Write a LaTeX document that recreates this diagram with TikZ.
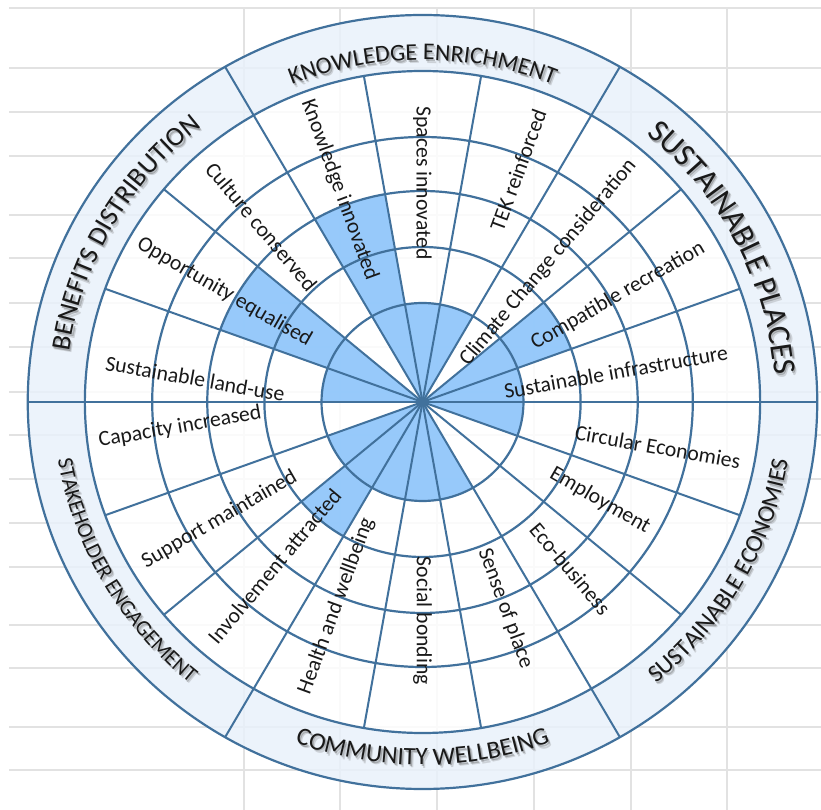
\documentclass[tikz,border=0pt]{standalone}
\usepackage{fontspec}
\setmainfont{Carlito}
\usetikzlibrary{decorations.text}

\definecolor{wheelline}{RGB}{65,113,156}
\definecolor{wheelshade}{RGB}{140,196,250}
\definecolor{bandfill}{RGB}{233,241,250}
\definecolor{gridgray}{RGB}{226,226,226}

\tikzset{
	ring/.style={draw=wheelline, line width=2.2pt},
	spoke/.style={draw=wheelline, line width=2pt},
	cell/.style={fill=wheelshade, fill opacity=0.9},
	gridline/.style={draw=gridgray, line width=1.5pt},
	goal/.style={font=\fontsize{21.7}{24}\selectfont, text=black!90, inner sep=0pt},
}

% curved heading in the outer band: from, to, baseline radius, size, text
\newcommand\bandtext[5]{%
	\foreach \dx/\dy/\op in {2.6/-3.2/0.2, 1.4/-1.8/0.35} {
		\begin{scope}[opacity=\op, shift={(\dx,\dy)}]
			\path[decorate, decoration={text along path, text align=center,
				text={|\fontsize{#4}{#4}\selectfont\color{black!70}|#5}}]
				(#1:#3) arc[start angle=#1, end angle=#2, radius=#3];
		\end{scope}
	}
	\path[decorate, decoration={text along path, text align=center,
		text={|\fontsize{#4}{#4}\selectfont\color{black!90}|#5}}]
		(#1:#3) arc[start angle=#1, end angle=#2, radius=#3];
}

\begin{document}
\begin{tikzpicture}[x=1pt, y=1pt, xscale=1.02]

	% sheet grid behind the wheel
	\begin{scope}[xscale=0.98039, yscale=-1, shift={(-422.5,-402)}]
		\useasboundingbox (0,0) rectangle (821,810);
		\foreach \y in {8,68,112,156,215,258,303,347,392,435,479,523,567,625,668,727,770}
			\draw[gridline] (9,\y) -- (821,\y);
		\foreach \x in {244,340,437,534,631,727}
			\draw[gridline] (\x,7) -- (\x,810);
	\end{scope}

	\coordinate (hub) at (0,0);

	\fill[bandfill, fill opacity=0.85, even odd rule] (hub) circle[radius=387] (hub) circle[radius=331];
	\fill[white, fill opacity=0.85] (hub) circle[radius=331];

	% scored cells
	\foreach \a/\b/\r in {0/20/99, 60/100/99, 160/180/99, 200/220/99, 240/300/99, 340/360/99,
		20/40/155, 220/240/155, 100/120/211, 140/160/211}
		\fill[cell] (hub) -- (\a:\r) arc[start angle=\a, end angle=\b, radius=\r] -- cycle;

	\foreach \r in {99,155,211,265,331,387}
		\draw[ring] (hub) circle[radius=\r];
	\foreach \a in {0,20,...,340}
		\draw[spoke] (hub) -- (\a:331);
	\foreach \a in {0,60,...,300}
		\draw[spoke] (\a:331) -- (\a:387);

	% outcome labels: sector, angle, radius, text
	\foreach \m/\p/\r/\txt in {10/9/192/Sustainable infrastructure, 30/29/219/Compatible recreation,
		50/48.5/186/Climate Change consideration, 70/68/250/TEK reinforced,
		90/90/219/Spaces innovated, 110/111/227/Knowledge innovated,
		130/132/236/Culture conserved, 150/150.5/223/Opportunity equalised,
		170/174/224/Sustainable land-use, 190/186/239/Capacity increased,
		210/210.5/231/Support maintained, 230/228.5/219/Involvement attracted,
		250/247.5/221/Health and wellbeing, 270/270/219/Social bonding,
		290/291.5/222/Sense of place, 310/311/221/Eco-business,
		330/330.5/200/Employment, 350/349/235/Circular Economies}
	{
		\pgfmathsetmacro\rot{ifthenelse(and(\m>=90,\m<270),\m-180,\m)}
		\node[goal, rotate=\rot] (goal-\m) at (\p:\r) {\txt};
	}

	% headings
	\bandtext{120}{60}{342}{24}{KNOWLEDGE ENRICHMENT}
	\bandtext{57.5}{-2.5}{346}{32}{SUSTAINABLE PLACES}
	\bandtext{180}{120}{350}{27}{BENEFITS DISTRIBUTION}
	\bandtext{180}{240}{362}{22}{STAKEHOLDER ENGAGEMENT}
	\bandtext{240}{300}{363}{25}{COMMUNITY WELLBEING}
	\bandtext{300}{360}{363}{24.5}{SUSTAINABLE ECONOMIES}

\end{tikzpicture}
\end{document}
